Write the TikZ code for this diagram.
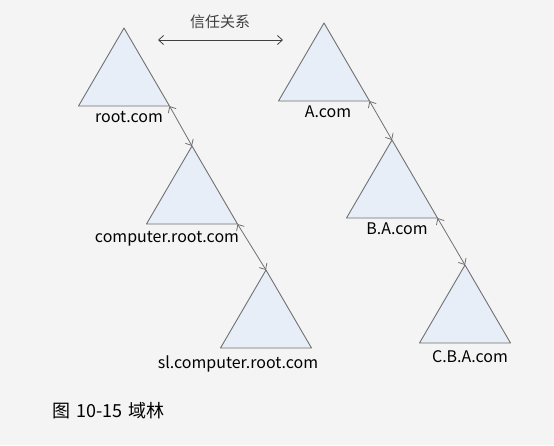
\documentclass[tikz,border=0pt]{standalone}
\usepackage{fontspec}
\setmainfont{Noto Sans CJK SC}
\usetikzlibrary{arrows.meta}
\definecolor{bgcol}{HTML}{F4F4F4}
\definecolor{trifill}{HTML}{E8EEF8}
\definecolor{edgecol}{HTML}{707070}
\tikzset{
  tree/.style={draw=edgecol, fill=trifill, line width=0.9pt, line join=round},
  lbl/.style={font=\fontsize{16}{18}\selectfont, inner sep=0pt},
  link/.style={{Straight Barb[length=5pt,width=9pt]}-{Straight Barb[length=5pt,width=9pt]}, draw=edgecol, line width=0.8pt}
}

\begin{document}
\begin{tikzpicture}[x=1pt,y=-1pt]

% Background
\fill[bgcol] (0,0) rectangle (554,445);

% Draw the domain trees (apex, label position, text)
\foreach \n/\x/\y/\lx/\ly/\t in {root/124/28/129/117/root.com,
    comp/192/146/167/239/computer.root.com,
    sl/266/270/238/364/sl.computer.root.com,
    a/324/23/328/112/A.com,
    b/392/140/397/229/B.A.com,
    c/465/265/470/357/C.B.A.com}
{
    \coordinate (\n) at (\x,\y);
    \coordinate (\n-r) at (\x+45.5,\y+78);
    \draw[tree] (\n) -- (\x-45.5,\y+78) -- (\n-r) -- cycle;
    \node[lbl] (\n-l) at (\lx,\ly) {\t};
}

% Parent-child links
\draw[link] (root-r) -- (comp);
\draw[link] (comp-r) -- (sl);
\draw[link] (a-r) -- (b);
\draw[link] (b-r) -- (c);

% Trust between the two trees
\coordinate (t1) at (158,40);
\coordinate (t2) at (283,40);
\draw[{Straight Barb[length=5pt,width=9pt]}-{Straight Barb[length=5pt,width=9pt]}, line width=0.8pt, draw=black!75] (t1) -- (t2);
\node[font=\fontsize{15}{17}\selectfont, text=black!75, inner sep=0pt] (trust) at (220,22) {信任关系};

% Caption
\node[anchor=west, font=\fontsize{18}{20}\selectfont, inner sep=0pt] (cap) at (52,411) {图\,\,10-15\,\,域林};
\end{tikzpicture}
\end{document}
